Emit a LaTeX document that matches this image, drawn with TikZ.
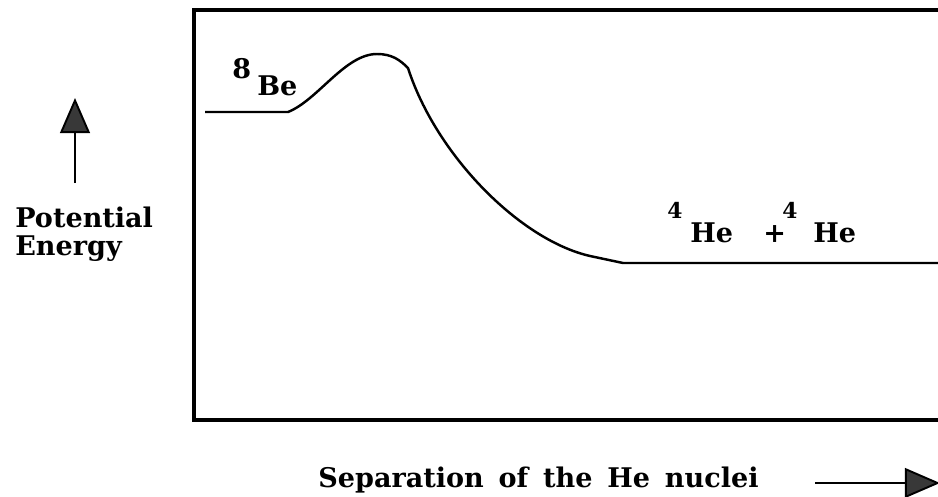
\documentclass[tikz,border=0pt]{standalone}
\usepackage{fontspec}
\setmainfont{DejaVu Serif}
\usetikzlibrary{arrows.meta}

\tikzset{
  lbl/.style={font=\fontsize{15.4}{16}\selectfont\bfseries, inner sep=0pt},
  hlbl/.style={font=\fontsize{15.4}{16}\selectfont\bfseries, inner sep=0pt},
  suplbl/.style={font=\fontsize{12.4}{12}\selectfont\bfseries, inner sep=0pt},
  frame/.style={line width=1.8pt, line cap=rect},
  curve/.style={line width=1.4pt, line join=round},
  bigarrow/.style={line width=1.1pt, -{Triangle[width=17pt, length=20pt, fill=black!78]}}
}

\begin{document}
\begin{tikzpicture}[x=0.02cm, y=-0.02cm]
        \useasboundingbox (0,0) rectangle (938,497);

        % --- open frame (right side runs off the page) ---
        \draw[frame] (938,10) -- (194,10) -- (194,420) -- (938,420);

        % --- potential energy curve ---
        \draw[curve] (205,112) -- (288,112)
            .. controls (318,100) and (345,54) .. (377,54)
            .. controls (392,54) and (400,60) .. (408,68)
            .. controls (436,155) and (520,240) .. (590,256)
            -- (623,263) -- (938,263);

        % --- level labels ---
        \node[lbl, anchor=base west] (be8mass) at (232,78) {8};
        \node[lbl, anchor=base west] (be8) at (257,95) {Be};
        \node[suplbl, anchor=base west] (he4amass) at (667,218) {4};
        \node[hlbl, anchor=base west] (he4a) at (690,242) {He};
        \node[hlbl, anchor=base west] (plus) at (763,242) {+};
        \node[suplbl, anchor=base west] (he4bmass) at (782,218) {4};
        \node[hlbl, anchor=base west] (he4b) at (813,242) {He};

        % --- axis labels ---
        \node[lbl, anchor=base west] (potential) at (15,227) {Potential};
        \node[lbl, anchor=base west] (energy) at (15,255) {Energy};
        \node[lbl, anchor=base west] (separation) at (318,487) {Separation\hspace{0.2em} of\hspace{0.2em} the\hspace{0.2em} He\hspace{0.2em} nuclei};

        % --- axis arrows ---
        \coordinate (upfoot) at (75,183);
        \coordinate (uptip) at (75,98);
        \coordinate (rightfoot) at (815,483);
        \coordinate (righttip) at (940,483);
        \draw[bigarrow] (upfoot) -- (uptip);
        \draw[bigarrow] (rightfoot) -- (righttip);
\end{tikzpicture}
\end{document}
